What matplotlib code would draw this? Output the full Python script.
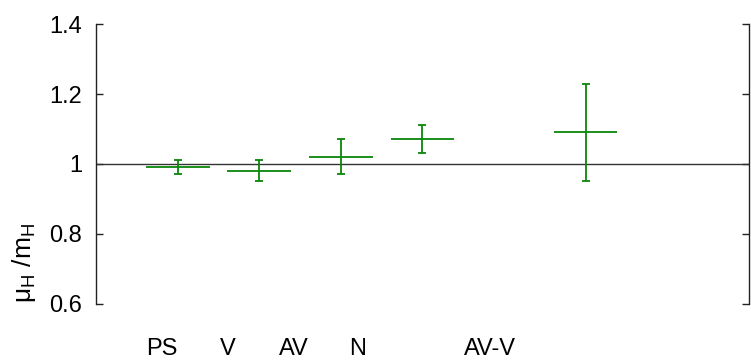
import matplotlib
matplotlib.use("Agg")
import matplotlib.pyplot as plt
from matplotlib.ticker import FuncFormatter

plt.rcParams.update({"font.family": "Liberation Sans", "font.size": 17,
                     "mathtext.fontset": "custom", "mathtext.rm": "Liberation Sans",
                     "mathtext.it": "Liberation Sans", "mathtext.default": "regular"})

# data
groups = ["PS", "V", "AV", "N", "AV-V"]
xpos = [1, 2, 3, 4, 6]
ratio = [0.99, 0.98, 1.02, 1.07, 1.09]
err_hi = [1.01, 1.01, 1.07, 1.11, 1.23]
err_lo = [0.97, 0.95, 0.97, 1.03, 0.95]
xhalf = 0.39
label_x = [0.81, 1.61, 2.42, 3.21, 4.83]   # labels sit offset from the points

green = "#0a870a"
fig = plt.figure(figsize=(7.51, 3.64), dpi=100)
ax = fig.add_axes([0.128, 0.165, 0.869, 0.769])

yerr = [[r - lo for r, lo in zip(ratio, err_lo)], [hi - r for r, hi in zip(ratio, err_hi)]]
ax.errorbar(xpos, ratio, yerr=yerr, fmt="none", ecolor=green,
            elinewidth=1.3, capsize=3, capthick=1.3, zorder=3)
ax.hlines(ratio, [x - xhalf for x in xpos], [x + xhalf for x in xpos],
          color=green, lw=1.3, zorder=3)
ax.axhline(1.0, color="#333333", lw=1.0, zorder=2)

ax.set_xlim(0, 8)
ax.set_ylim(0.6, 1.4)
ax.set_yticks([0.6, 0.8, 1.0, 1.2, 1.4])
ax.yaxis.set_major_formatter(FuncFormatter(lambda v, p: f"{v:g}"))
ax.set_xticks([])
ax.spines["top"].set_visible(False)
ax.spines["bottom"].set_visible(False)
for s in ("left", "right"):
    ax.spines[s].set_color("#222222")
    ax.spines[s].set_linewidth(1.0)
ax.tick_params(axis="y", direction="in", length=5, width=1, color="#222222",
               right=True, left=True, pad=10)

for lx, g in zip(label_x, groups):
    ax.text(lx, 0.472, g, ha="center", va="center", fontsize=17)

fig.text(0.032, 0.277, r"$\mu_H$ /m$_H$", rotation=90, ha="center", va="center",
         fontsize=19)

fig.savefig("out.png", dpi=100)
